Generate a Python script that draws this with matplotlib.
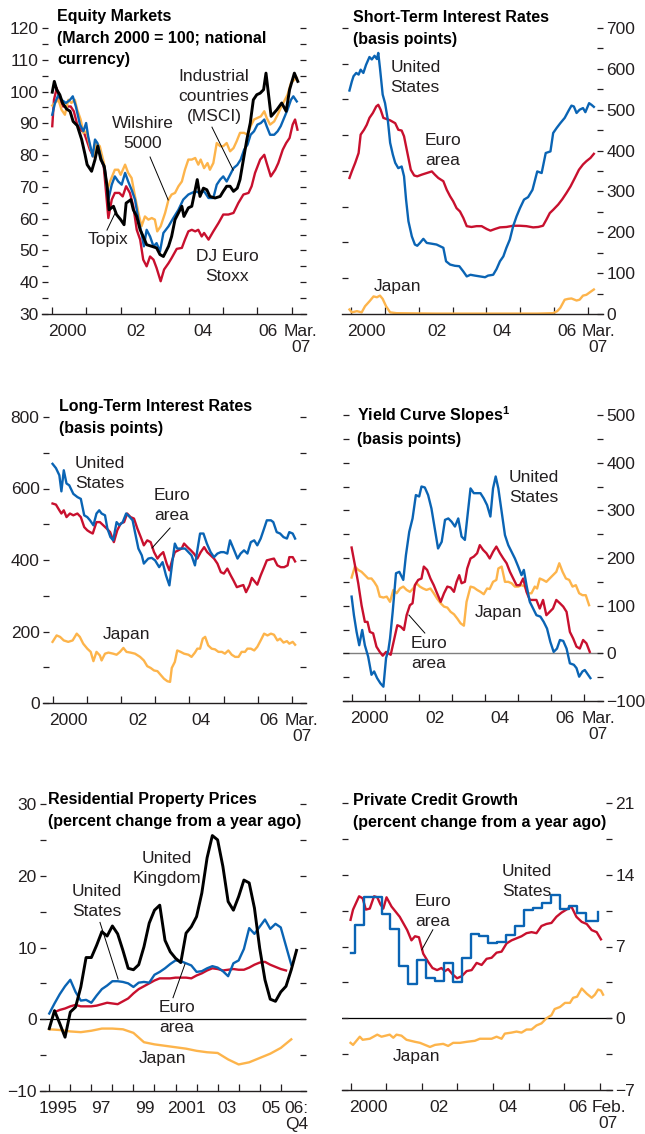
import numpy as np
import matplotlib
matplotlib.use("Agg")
import matplotlib.pyplot as plt
from matplotlib import font_manager

plt.rcParams['font.family'] = ['Liberation Sans', 'DejaVu Sans']
plt.rcParams['mathtext.fontset'] = 'custom'

_names = {f.name for f in font_manager.fontManager.ttflist}
if 'Liberation Sans Narrow' in _names:
    TITLE_FAMILY = ['Liberation Sans Narrow', 'Liberation Sans']
    TITLE_SIZE = 13.6
    plt.rcParams['mathtext.bf'] = 'Liberation Sans Narrow:bold'
else:
    TITLE_FAMILY = ['Liberation Sans', 'DejaVu Sans']
    TITLE_SIZE = 11.5
    plt.rcParams['mathtext.bf'] = 'Liberation Sans:bold'
plt.rcParams['mathtext.rm'] = 'Liberation Sans'

BLUE = '#0a64b4'
RED = '#c8102e'
ORANGE = '#fdb44b'
BLACK = '#000000'
TXT = '#231f20'

# ---------------- DATA ----------------
# Panel 1: Equity markets (March 2000 = 100)  (decimal year, index)
topix = [(2000.0, 99.8), (2000.06, 103.2), (2000.13, 100.6), (2000.22, 99.0), (2000.30, 96.4), (2000.42, 94.5),
         (2000.52, 93.8), (2000.61, 90.6), (2000.73, 89.3), (2000.86, 84.9), (2000.96, 80.1), (2001.02, 77.0),
         (2001.15, 74.9), (2001.25, 78.6), (2001.33, 82.8), (2001.42, 78.6), (2001.52, 76.5), (2001.61, 69.6),
         (2001.66, 62.8), (2001.79, 63.9), (2001.88, 61.3), (2002.00, 59.7), (2002.10, 58.1), (2002.16, 64.9),
         (2002.30, 66.0), (2002.37, 62.8), (2002.47, 60.7), (2002.57, 56.5), (2002.66, 54.4), (2002.76, 51.8),
         (2002.91, 51.3), (2003.05, 50.8), (2003.15, 48.7), (2003.25, 48.1), (2003.40, 51.3), (2003.49, 54.4),
         (2003.59, 59.7), (2003.69, 61.8), (2003.79, 63.9), (2003.85, 60.7), (2003.98, 63.4), (2004.08, 63.9),
         (2004.18, 69.1), (2004.24, 72.3), (2004.32, 67.0), (2004.42, 69.6), (2004.52, 69.1), (2004.61, 67.0),
         (2004.76, 66.5), (2004.91, 67.0), (2005.00, 68.6), (2005.10, 70.2), (2005.20, 70.2), (2005.30, 68.6),
         (2005.41, 69.6), (2005.49, 72.3), (2005.59, 78.6), (2005.69, 84.9), (2005.79, 90.1), (2005.88, 97.4),
         (2005.98, 99.0), (2006.08, 99.5), (2006.18, 100.6), (2006.25, 105.8), (2006.40, 92.2), (2006.57, 94.3),
         (2006.71, 96.4), (2006.84, 93.8), (2006.94, 100.6), (2007.08, 105.8), (2007.18, 103.2)]
msci = [(2000.0, 92.7), (2000.08, 96.4), (2000.18, 99.0), (2000.27, 97.4), (2000.40, 96.4), (2000.52, 97.4),
        (2000.60, 98.5), (2000.69, 95.3), (2000.81, 89.6), (2000.91, 87.5), (2000.99, 90.1), (2001.05, 85.9),
        (2001.18, 79.6), (2001.25, 84.9), (2001.32, 83.8), (2001.44, 78.6), (2001.54, 75.4), (2001.64, 66.0),
        (2001.74, 70.7), (2001.83, 73.3), (2001.93, 71.7), (2002.03, 70.7), (2002.13, 74.4), (2002.22, 71.7),
        (2002.32, 69.1), (2002.42, 66.0), (2002.52, 59.7), (2002.61, 55.5), (2002.68, 51.3), (2002.76, 56.5),
        (2002.86, 54.4), (2002.96, 51.3), (2003.05, 52.3), (2003.15, 49.7), (2003.25, 55.5), (2003.40, 57.6),
        (2003.54, 60.2), (2003.69, 62.8), (2003.83, 66.0), (2003.98, 67.6), (2004.08, 68.1), (2004.18, 68.6),
        (2004.32, 68.1), (2004.44, 68.6), (2004.57, 66.5), (2004.71, 66.5), (2004.81, 70.7), (2004.91, 72.3),
        (2005.00, 73.3), (2005.10, 71.7), (2005.20, 73.8), (2005.30, 75.9), (2005.41, 76.9), (2005.51, 78.6),
        (2005.61, 81.7), (2005.71, 83.3), (2005.80, 86.4), (2005.90, 87.5), (2006.00, 89.6), (2006.10, 90.1),
        (2006.20, 91.2), (2006.27, 89.1), (2006.37, 86.4), (2006.49, 86.4), (2006.59, 87.5), (2006.68, 89.1),
        (2006.78, 91.7), (2006.88, 94.3), (2006.98, 97.4), (2007.05, 98.5), (2007.15, 96.9)]
wilshire = [(2000.0, 95.6), (2000.08, 96.4), (2000.18, 97.4), (2000.27, 94.3), (2000.37, 92.7), (2000.47, 97.4),
            (2000.56, 96.4), (2000.66, 97.4), (2000.73, 94.3), (2000.83, 91.2), (2000.91, 87.0), (2001.00, 87.5),
            (2001.10, 82.8), (2001.20, 79.6), (2001.30, 83.8), (2001.39, 82.8), (2001.51, 77.5), (2001.61, 69.1),
            (2001.69, 71.7), (2001.83, 75.4), (2001.93, 75.4), (2002.00, 73.8), (2002.13, 77.0), (2002.22, 74.4),
            (2002.32, 72.8), (2002.42, 67.0), (2002.52, 61.8), (2002.61, 57.6), (2002.71, 60.7), (2002.81, 59.7),
            (2002.91, 60.2), (2003.00, 59.7), (2003.07, 56.0), (2003.17, 57.6), (2003.30, 61.8), (2003.40, 66.0),
            (2003.49, 67.6), (2003.59, 68.1), (2003.69, 70.2), (2003.79, 71.7), (2003.88, 75.4), (2003.98, 78.6),
            (2004.08, 78.6), (2004.18, 79.1), (2004.27, 77.0), (2004.34, 78.6), (2004.44, 75.9), (2004.54, 77.5),
            (2004.61, 75.4), (2004.71, 77.5), (2004.81, 83.8), (2004.91, 82.8), (2005.00, 82.8), (2005.10, 83.8),
            (2005.20, 81.2), (2005.30, 82.2), (2005.39, 84.3), (2005.49, 87.0), (2005.61, 87.0), (2005.71, 86.4),
            (2005.80, 89.1), (2005.90, 91.2), (2006.00, 91.7), (2006.10, 92.2), (2006.20, 93.8), (2006.27, 91.7),
            (2006.37, 89.6), (2006.49, 90.6), (2006.59, 92.7), (2006.68, 94.8), (2006.78, 96.9), (2006.88, 99.0),
            (2006.98, 102.7), (2007.08, 103.7), (2007.15, 104.3)]
euro_stoxx = [(2000.0, 89.1), (2000.05, 97.4), (2000.13, 101.1), (2000.22, 97.4), (2000.32, 95.3), (2000.42, 95.3),
              (2000.54, 95.3), (2000.63, 93.8), (2000.73, 89.6), (2000.83, 88.0), (2000.93, 87.0), (2001.00, 84.9),
              (2001.10, 81.7), (2001.20, 79.6), (2001.30, 83.8), (2001.40, 80.7), (2001.51, 75.9), (2001.64, 60.2),
              (2001.74, 66.0), (2001.83, 68.1), (2001.96, 68.1), (2002.06, 67.0), (2002.16, 70.2), (2002.27, 68.1),
              (2002.37, 63.9), (2002.47, 56.5), (2002.57, 53.4), (2002.66, 47.1), (2002.76, 45.0), (2002.86, 48.1),
              (2002.96, 47.1), (2003.05, 44.5), (2003.17, 40.3), (2003.27, 44.0), (2003.40, 46.0), (2003.49, 47.6),
              (2003.64, 50.5), (2003.79, 50.8), (2003.88, 53.4), (2003.98, 56.0), (2004.08, 56.5), (2004.18, 56.0),
              (2004.27, 56.5), (2004.37, 54.4), (2004.44, 55.5), (2004.57, 53.4), (2004.71, 56.0), (2004.86, 58.6),
              (2005.00, 61.3), (2005.15, 61.3), (2005.30, 61.8), (2005.44, 64.9), (2005.59, 67.6), (2005.74, 68.1),
              (2005.83, 70.2), (2005.93, 74.4), (2006.08, 78.6), (2006.20, 80.1), (2006.27, 77.5), (2006.39, 73.3),
              (2006.52, 75.4), (2006.61, 77.5), (2006.74, 81.7), (2006.84, 83.8), (2006.94, 85.4), (2007.03, 89.6),
              (2007.10, 91.2), (2007.17, 88.0)]

# Panel 2: Short-term interest rates (basis points)
st_us = [(1999.96, 547), (2000.03, 569), (2000.08, 582), (2000.16, 590), (2000.23, 586), (2000.29, 598),
         (2000.37, 590), (2000.45, 610), (2000.55, 629), (2000.62, 623), (2000.70, 632), (2000.77, 624),
         (2000.81, 639), (2000.86, 602), (2000.94, 537), (2001.01, 516), (2001.09, 476), (2001.16, 419),
         (2001.24, 390), (2001.31, 370), (2001.40, 357), (2001.50, 361), (2001.57, 337), (2001.63, 280),
         (2001.70, 227), (2001.80, 190), (2001.89, 170), (2001.96, 167), (2002.04, 174), (2002.14, 184),
         (2002.24, 174), (2002.39, 172), (2002.53, 170), (2002.63, 166), (2002.73, 162), (2002.81, 129),
         (2002.93, 121), (2003.07, 118), (2003.20, 117), (2003.32, 104), (2003.42, 92), (2003.53, 96),
         (2003.66, 94), (2003.81, 92), (2003.96, 90), (2004.05, 94), (2004.20, 96), (2004.30, 110),
         (2004.40, 129), (2004.50, 141), (2004.59, 162), (2004.69, 182), (2004.79, 215), (2004.89, 239),
         (2004.99, 259), (2005.11, 280), (2005.23, 286), (2005.36, 304), (2005.50, 349), (2005.63, 345),
         (2005.75, 394), (2005.89, 398), (2005.97, 443), (2006.07, 455), (2006.18, 467), (2006.31, 480),
         (2006.44, 500), (2006.51, 510), (2006.58, 508), (2006.66, 492), (2006.75, 500), (2006.85, 504),
         (2006.92, 494), (2007.03, 516), (2007.10, 512), (2007.17, 507)]
st_euro = [(1999.96, 333), (2000.03, 349), (2000.13, 370), (2000.23, 394), (2000.29, 439), (2000.39, 451),
           (2000.47, 463), (2000.55, 480), (2000.65, 492), (2000.75, 508), (2000.81, 512), (2000.88, 500),
           (2000.96, 480), (2001.06, 477), (2001.16, 474), (2001.31, 467), (2001.40, 451), (2001.50, 449),
           (2001.57, 435), (2001.67, 394), (2001.77, 353), (2001.87, 339), (2001.96, 337), (2002.09, 341),
           (2002.24, 345), (2002.39, 349), (2002.48, 341), (2002.58, 333), (2002.73, 325), (2002.83, 304),
           (2002.93, 288), (2003.02, 276), (2003.12, 259), (2003.22, 251), (2003.32, 235), (2003.42, 215),
           (2003.56, 213), (2003.71, 215), (2003.86, 215), (2004.01, 208), (2004.12, 204), (2004.25, 208),
           (2004.40, 212), (2004.59, 213), (2004.79, 216), (2004.99, 216), (2005.18, 215), (2005.38, 212),
           (2005.53, 213), (2005.67, 216), (2005.77, 231), (2005.87, 247), (2005.97, 255), (2006.12, 268),
           (2006.24, 281), (2006.36, 296), (2006.48, 312), (2006.61, 333), (2006.73, 353), (2006.85, 366),
           (2006.95, 374), (2007.07, 382), (2007.17, 392)]
st_japan = [(1999.96, 11), (2000.03, 4), (2000.18, 7), (2000.32, 4), (2000.42, 19), (2000.55, 31),
            (2000.67, 43), (2000.77, 41), (2000.86, 45), (2000.94, 37), (2001.04, 19), (2001.16, 4),
            (2001.35, 2), (2002.50, 1), (2004.00, 1), (2005.50, 1), (2005.97, 2), (2006.09, 7),
            (2006.18, 15), (2006.31, 35), (2006.41, 37), (2006.51, 38), (2006.66, 33), (2006.75, 35),
            (2006.85, 45), (2006.95, 47), (2007.05, 53), (2007.17, 60)]

# Panel 3: Long-term interest rates (basis points)
lt_us = [(1999.98, 669), (2000.08, 657), (2000.18, 637), (2000.24, 592), (2000.31, 651), (2000.39, 614),
         (2000.47, 609), (2000.59, 585), (2000.71, 576), (2000.81, 571), (2000.91, 525), (2001.00, 520),
         (2001.08, 511), (2001.18, 497), (2001.27, 530), (2001.35, 539), (2001.42, 530), (2001.52, 525),
         (2001.59, 488), (2001.68, 464), (2001.76, 455), (2001.86, 506), (2001.94, 497), (2002.04, 506),
         (2002.14, 530), (2002.23, 522), (2002.33, 511), (2002.40, 478), (2002.50, 432), (2002.60, 413),
         (2002.66, 390), (2002.79, 404), (2002.89, 406), (2002.99, 399), (2003.11, 380), (2003.21, 394),
         (2003.31, 357), (2003.41, 329), (2003.51, 404), (2003.57, 446), (2003.64, 432), (2003.77, 432),
         (2003.87, 432), (2003.97, 422), (2004.06, 413), (2004.16, 385), (2004.23, 427), (2004.31, 474),
         (2004.41, 474), (2004.51, 446), (2004.62, 422), (2004.72, 408), (2004.82, 418), (2004.92, 422),
         (2005.01, 422), (2005.11, 418), (2005.19, 455), (2005.29, 432), (2005.41, 404), (2005.50, 418),
         (2005.60, 427), (2005.70, 418), (2005.80, 450), (2005.90, 455), (2005.99, 441), (2006.09, 460),
         (2006.19, 488), (2006.27, 511), (2006.39, 511), (2006.46, 506), (2006.56, 478), (2006.66, 474),
         (2006.76, 464), (2006.86, 460), (2006.93, 478), (2007.03, 474), (2007.10, 460)]
lt_euro = [(1999.98, 558), (2000.08, 555), (2000.18, 539), (2000.24, 530), (2000.31, 539), (2000.39, 520),
           (2000.49, 530), (2000.59, 525), (2000.71, 530), (2000.81, 520), (2000.91, 492), (2001.00, 483),
           (2001.08, 478), (2001.16, 474), (2001.27, 506), (2001.37, 506), (2001.47, 497), (2001.57, 488),
           (2001.67, 478), (2001.78, 450), (2001.88, 483), (2001.98, 502), (2002.08, 506), (2002.17, 530),
           (2002.27, 520), (2002.37, 516), (2002.47, 488), (2002.57, 464), (2002.66, 441), (2002.76, 455),
           (2002.86, 450), (2002.96, 422), (2003.06, 404), (2003.13, 413), (2003.23, 422), (2003.33, 390),
           (2003.41, 371), (2003.49, 399), (2003.57, 422), (2003.67, 427), (2003.77, 432), (2003.84, 446),
           (2003.94, 436), (2004.04, 427), (2004.13, 418), (2004.23, 404), (2004.33, 422), (2004.43, 436),
           (2004.52, 422), (2004.62, 413), (2004.72, 404), (2004.82, 390), (2004.92, 366), (2005.01, 362),
           (2005.11, 376), (2005.21, 357), (2005.29, 343), (2005.39, 324), (2005.48, 327), (2005.58, 330),
           (2005.66, 310), (2005.76, 329), (2005.83, 350), (2005.93, 338), (2005.99, 331), (2006.09, 357),
           (2006.19, 380), (2006.27, 399), (2006.39, 402), (2006.48, 404), (2006.58, 385), (2006.68, 380),
           (2006.78, 380), (2006.88, 385), (2006.93, 408), (2007.03, 408), (2007.10, 396)]
lt_japan = [(1999.98, 171), (2000.10, 189), (2000.20, 185), (2000.31, 175), (2000.44, 171), (2000.57, 175),
            (2000.69, 194), (2000.78, 185), (2000.88, 166), (2001.00, 152), (2001.10, 143), (2001.18, 117),
            (2001.27, 143), (2001.37, 133), (2001.42, 119), (2001.52, 138), (2001.62, 141), (2001.76, 138),
            (2001.86, 135), (2001.96, 143), (2002.06, 154), (2002.15, 143), (2002.27, 141), (2002.40, 138),
            (2002.55, 129), (2002.66, 119), (2002.76, 103), (2002.86, 98), (2002.96, 91), (2003.06, 89),
            (2003.15, 79), (2003.25, 68), (2003.35, 61), (2003.43, 59), (2003.48, 98), (2003.57, 115),
            (2003.64, 147), (2003.74, 143), (2003.84, 138), (2003.97, 135), (2004.06, 129), (2004.16, 141),
            (2004.23, 152), (2004.31, 152), (2004.39, 180), (2004.46, 185), (2004.55, 161), (2004.65, 152),
            (2004.75, 150), (2004.85, 143), (2004.95, 143), (2005.04, 138), (2005.14, 147), (2005.24, 135),
            (2005.34, 129), (2005.44, 129), (2005.53, 143), (2005.63, 143), (2005.70, 152), (2005.80, 152),
            (2005.90, 147), (2005.99, 157), (2006.09, 175), (2006.19, 194), (2006.29, 189), (2006.39, 194),
            (2006.48, 191), (2006.58, 175), (2006.66, 180), (2006.76, 169), (2006.86, 173), (2006.93, 166),
            (2007.03, 171), (2007.10, 163)]

# Panel 4: Yield curve slopes (basis points)
yc_us = [(1999.98, 119), (2000.05, 80), (2000.13, 45), (2000.21, 17), (2000.30, 49), (2000.38, 17),
         (2000.48, -7), (2000.58, -45), (2000.66, -38), (2000.75, -52), (2000.85, -63), (2000.94, -70),
         (2001.02, -10), (2001.09, 7), (2001.14, 31), (2001.22, 87), (2001.32, 168), (2001.42, 171),
         (2001.54, 154), (2001.62, 206), (2001.72, 255), (2001.82, 283), (2001.92, 332), (2002.02, 329),
         (2002.09, 350), (2002.19, 348), (2002.29, 332), (2002.39, 304), (2002.49, 262), (2002.59, 220),
         (2002.70, 234), (2002.80, 280), (2002.90, 283), (2003.00, 276), (2003.10, 266), (2003.20, 283),
         (2003.30, 245), (2003.40, 238), (2003.47, 283), (2003.57, 346), (2003.67, 336), (2003.77, 336),
         (2003.87, 336), (2003.97, 325), (2004.07, 311), (2004.17, 287), (2004.25, 346), (2004.33, 371),
         (2004.41, 346), (2004.51, 297), (2004.61, 248), (2004.71, 227), (2004.81, 213), (2004.91, 199),
         (2005.01, 182), (2005.11, 164), (2005.18, 175), (2005.26, 143), (2005.36, 108), (2005.46, 94),
         (2005.56, 80), (2005.68, 77), (2005.78, 66), (2005.88, 52), (2005.98, 24), (2006.08, 3),
         (2006.18, 10), (2006.27, 28), (2006.37, 26), (2006.47, 10), (2006.57, -21), (2006.69, -24),
         (2006.77, -31), (2006.85, -49), (2006.95, -38), (2007.02, -35), (2007.12, -45), (2007.19, -52)]
yc_euro = [(1999.98, 222), (2000.08, 185), (2000.18, 147), (2000.28, 101), (2000.38, 66), (2000.46, 66),
           (2000.53, 45), (2000.63, 42), (2000.73, 14), (2000.83, 3), (2000.92, -5), (2001.02, 3),
           (2001.09, 0), (2001.16, -3), (2001.26, 28), (2001.36, 59), (2001.46, 56), (2001.56, 49),
           (2001.64, 80), (2001.74, 101), (2001.82, 105), (2001.89, 143), (2001.99, 154), (2002.09, 157),
           (2002.16, 182), (2002.26, 175), (2002.36, 157), (2002.46, 143), (2002.56, 126), (2002.67, 108),
           (2002.77, 126), (2002.87, 140), (2002.97, 138), (2003.07, 129), (2003.15, 150), (2003.23, 164),
           (2003.30, 147), (2003.40, 150), (2003.47, 178), (2003.57, 199), (2003.67, 203), (2003.77, 210),
           (2003.85, 227), (2003.95, 217), (2004.05, 210), (2004.15, 199), (2004.25, 213), (2004.35, 224),
           (2004.46, 210), (2004.56, 199), (2004.66, 189), (2004.76, 171), (2004.86, 157), (2004.96, 143),
           (2005.06, 143), (2005.16, 157), (2005.26, 129), (2005.36, 112), (2005.46, 112), (2005.56, 112),
           (2005.66, 94), (2005.76, 112), (2005.86, 80), (2005.96, 87), (2006.06, 94), (2006.16, 112),
           (2006.27, 105), (2006.37, 98), (2006.47, 87), (2006.57, 45), (2006.67, 31), (2006.77, 14),
           (2006.87, 10), (2006.97, 28), (2007.07, 21), (2007.17, 3)]
yc_japan = [(1999.98, 159), (2000.08, 182), (2000.18, 175), (2000.28, 171), (2000.38, 164), (2000.48, 157),
            (2000.58, 157), (2000.66, 150), (2000.75, 140), (2000.83, 119), (2000.94, 117), (2001.04, 119),
            (2001.14, 108), (2001.24, 133), (2001.34, 126), (2001.44, 136), (2001.54, 140), (2001.64, 133),
            (2001.74, 129), (2001.84, 136), (2001.94, 147), (2002.04, 140), (2002.14, 136), (2002.24, 133),
            (2002.36, 136), (2002.46, 126), (2002.56, 115), (2002.67, 105), (2002.77, 98), (2002.87, 96),
            (2002.97, 87), (2003.07, 82), (2003.17, 73), (2003.27, 63), (2003.37, 58), (2003.45, 108),
            (2003.57, 140), (2003.67, 138), (2003.77, 133), (2003.87, 129), (2003.97, 124), (2004.07, 136),
            (2004.15, 135), (2004.25, 150), (2004.35, 154), (2004.41, 178), (2004.51, 182), (2004.61, 150),
            (2004.71, 150), (2004.81, 147), (2004.91, 140), (2005.01, 140), (2005.11, 143), (2005.21, 140),
            (2005.31, 126), (2005.41, 126), (2005.51, 140), (2005.58, 136), (2005.66, 157), (2005.76, 154),
            (2005.86, 150), (2005.96, 157), (2006.06, 164), (2006.16, 171), (2006.25, 189), (2006.35, 171),
            (2006.45, 157), (2006.55, 154), (2006.65, 140), (2006.75, 143), (2006.85, 126), (2006.95, 122),
            (2007.05, 122), (2007.15, 101)]

# Panel 5: Residential property prices (percent change from a year ago), quarterly from 1995:Q1
hp_uk = [-1.3, 1.2, -0.6, -2.5, 1.0, 1.7, 4.5, 8.6, 8.6, 10.3, 12.2, 11.6, 13.0, 11.9, 9.6, 7.1,
         6.9, 7.6, 10.1, 13.4, 15.2, 15.9, 11.0, 9.4, 8.5, 7.9, 12.0, 12.9, 14.3, 17.6, 22.5, 25.6,
         25.0, 21.3, 16.4, 15.2, 17.1, 19.4, 19.0, 15.5, 9.9, 5.5, 2.8, 2.5, 3.8, 4.6, 6.9, 9.6]
hp_us = [0.8, 2.2, 3.5, 4.6, 5.5, 3.8, 2.6, 2.7, 2.3, 3.3, 4.2, 4.7, 5.3, 5.3, 5.2, 5.0,
         4.5, 5.1, 5.2, 5.1, 6.2, 6.6, 7.1, 7.7, 8.2, 8.1, 7.8, 7.5, 6.6, 6.7, 7.1, 7.4,
         7.2, 6.7, 6.0, 7.8, 8.2, 9.8, 12.7, 11.9, 12.9, 13.9, 12.6, 13.3, 12.8, 10.2, 7.6]
# euro area series starts 1995:Q2
hp_euro = [1.0, 1.3, 1.5, 1.8, 2.0, 1.8, 1.8, 1.8, 1.9, 2.1, 2.3, 2.2, 2.1, 2.5, 2.9,
           3.6, 4.2, 4.6, 5.0, 5.4, 5.7, 5.7, 5.7, 5.8, 5.8, 5.8, 5.7, 6.1, 6.4, 6.8,
           7.1, 7.0, 6.8, 6.9, 7.0, 6.9, 6.9, 7.2, 7.6, 7.9, 8.0, 7.6, 7.3, 7.0, 6.8]
# Japan: semiannual from 1995:H1
hp_japan = [-1.4, -1.5, -1.7, -1.8, -1.6, -1.3, -1.3, -1.4, -1.9, -3.2, -3.5, -3.7,
            -3.9, -4.1, -4.4, -4.6, -4.7, -5.6, -6.3, -6.0, -5.4, -4.8, -4.0, -2.8]

# Panel 6: Private credit growth (percent change from a year ago)
cr_us_steps = [(2000.00, 6.4), (2000.12, 9.1), (2000.37, 11.8), (2000.87, 10.2), (2001.12, 8.7), (2001.37, 5.1),
               (2001.62, 3.3), (2001.87, 5.7), (2002.12, 3.9), (2002.37, 3.6), (2002.62, 5.4), (2002.87, 3.5),
               (2003.12, 5.9), (2003.37, 8.2), (2003.62, 8.0), (2003.87, 7.3), (2004.12, 7.4), (2004.37, 8.1),
               (2004.62, 9.0), (2004.87, 10.6), (2005.12, 10.8), (2005.37, 11.2), (2005.62, 12.0), (2005.87, 10.7),
               (2006.12, 11.0), (2006.37, 10.3), (2006.62, 9.5), (2006.95, 10.4)]
cr_euro = [(2000.00, 9.6), (2000.07, 10.6), (2000.24, 11.9), (2000.34, 11.7), (2000.43, 10.6), (2000.54, 10.7),
           (2000.66, 11.9), (2000.75, 11.8), (2000.84, 11.1), (2000.92, 10.7), (2001.01, 11.8), (2001.15, 10.9),
           (2001.38, 9.9), (2001.59, 8.6), (2001.71, 7.6), (2001.81, 8.0), (2001.92, 7.9), (2002.04, 6.3),
           (2002.18, 5.5), (2002.30, 4.9), (2002.43, 4.7), (2002.55, 4.9), (2002.65, 4.6), (2002.74, 4.8),
           (2002.86, 4.3), (2002.99, 3.9), (2003.12, 4.1), (2003.26, 4.6), (2003.40, 4.7), (2003.54, 5.4),
           (2003.68, 5.2), (2003.82, 5.8), (2003.96, 5.9), (2004.10, 6.4), (2004.24, 6.5), (2004.38, 7.3),
           (2004.52, 7.6), (2004.66, 7.8), (2004.80, 8.0), (2004.94, 8.3), (2005.08, 8.4), (2005.22, 8.3),
           (2005.36, 9.0), (2005.50, 9.2), (2005.64, 9.3), (2005.78, 9.9), (2005.92, 10.3), (2006.06, 10.6),
           (2006.20, 10.9), (2006.34, 9.9), (2006.49, 9.4), (2006.63, 9.2), (2006.77, 8.6), (2006.91, 8.4),
           (2007.03, 7.7)]
cr_japan = [(2000.00, -2.4), (2000.07, -2.6), (2000.26, -1.8), (2000.34, -2.1), (2000.54, -2.0), (2000.75, -1.6),
            (2000.87, -1.8), (2001.10, -1.6), (2001.20, -1.9), (2001.29, -1.6), (2001.43, -1.7), (2001.57, -2.1),
            (2001.81, -2.3), (2001.95, -2.4), (2002.09, -2.6), (2002.23, -2.8), (2002.37, -2.6), (2002.60, -2.5),
            (2002.74, -2.7), (2002.88, -2.4), (2003.07, -2.4), (2003.26, -2.3), (2003.49, -2.2), (2003.63, -2.0),
            (2003.82, -2.0), (2003.96, -2.0), (2004.10, -1.8), (2004.24, -2.0), (2004.33, -1.5), (2004.52, -1.4),
            (2004.66, -1.3), (2004.80, -1.4), (2004.94, -1.1), (2005.08, -1.1), (2005.22, -0.7), (2005.36, -0.5),
            (2005.50, 0.0), (2005.64, 0.3), (2005.73, 0.9), (2005.88, 1.1), (2006.02, 1.5), (2006.16, 1.5),
            (2006.25, 2.0), (2006.36, 2.1), (2006.49, 2.9), (2006.63, 2.4), (2006.77, 2.0), (2006.86, 2.3),
            (2006.95, 2.8), (2007.03, 2.7), (2007.09, 2.3)]

# Tick labels
lbl_2000s_mar = ['2000', '02', '04', '06', 'Mar.\n07']
lbl_2000s_feb = ['2000', '02', '04', '06', 'Feb.\n07']
lbl_1995 = ['1995', '97', '99', '2001', '03', '05', '06:\nQ4']

# ---------------- FIGURE ----------------
W, H = 645, 1134
fig = plt.figure(figsize=(W / 100, H / 100), dpi=100)


def make_ax(l, r, t, b):
    return fig.add_axes([l / W, 1 - b / H, (r - l) / W, (b - t) / H])


def style(ax, xlim, ylim, ymaj, ymin, side, xmaj, xlab_pos, xlabels):
    ax.set_xlim(xlim)
    ax.set_ylim(ylim)
    for s in ['left', 'right', 'top']:
        ax.spines[s].set_visible(False)
    ax.spines['bottom'].set_linewidth(1.0)
    ax.spines['bottom'].set_color(TXT)
    ax.spines['bottom'].set_zorder(5)
    ax.set_yticks(ymaj)
    ax.set_yticks(ymin, minor=True)
    ax.tick_params(axis='y', which='both', direction='in', length=4, width=0.9, color=TXT,
                   left=True, right=True, labelleft=(side == 'left'), labelright=(side == 'right'),
                   labelsize=12.5, labelcolor=TXT, pad=2.5)
    ax.set_xticks(xmaj, [''] * len(xmaj))
    ax.set_xticks(xlab_pos, xlabels, minor=True)
    ax.tick_params(axis='x', which='major', direction='in', length=5, width=0.9, color=TXT)
    ax.tick_params(axis='x', which='minor', length=0, labelsize=12.5, labelcolor=TXT, pad=7)
    for lab in ax.get_xticklabels(minor=True):
        lab.set_linespacing(1.1)
    ax.patch.set_alpha(0)


def line(ax, pairs, color, lw=1.7, **kw):
    t = [p[0] for p in pairs]
    v = [p[1] for p in pairs]
    ax.plot(t, v, color=color, lw=lw, solid_joinstyle='round', **kw)


def title(x, y, s):
    fig.text(x / W, 1 - y / H, s, ha='left', va='top', fontsize=TITLE_SIZE, fontweight='bold',
             family=TITLE_FAMILY, color=BLACK, linespacing=1.55)


def note(ax, x, y, s, ha='center'):
    ax.text(x, y, s, ha=ha, va='center', fontsize=12.5, color=TXT, linespacing=1.42)


def leader(ax, p0, p1):
    ax.plot([p0[0], p1[0]], [p0[1], p1[1]], color=BLACK, lw=0.7)


years = list(range(2000, 2008))

# Panel 1
ax1 = make_ax(42, 306, 28, 314)
style(ax1, (1999.70, 2007.42), (30, 120), list(range(30, 121, 10)), list(range(35, 120, 10)), 'left',
      years, [2000.45, 2002.44, 2004.42, 2006.32, 2007.27], lbl_2000s_mar)
line(ax1, euro_stoxx, RED)
line(ax1, wilshire, ORANGE)
line(ax1, msci, BLUE)
line(ax1, topix, BLACK, lw=2.1)
note(ax1, 2004.73, 98.3, 'Industrial\ncountries\n(MSCI)')
leader(ax1, (2004.67, 88.8), (2005.29, 75.3))
note(ax1, 2002.65, 86.8, 'Wilshire\n5000')
leader(ax1, (2002.86, 79.4), (2003.39, 65.9))
note(ax1, 2001.63, 53.3, 'Topix')
leader(ax1, (2001.60, 56.4), (2001.84, 61.8))
note(ax1, 2005.11, 44.8, 'DJ Euro\nStoxx')
title(57, 9, 'Equity Markets\n(March 2000 = 100; national\ncurrency)')

# Panel 2
ax2 = make_ax(342, 603, 28, 314)
style(ax2, (1999.74, 2007.44), (0, 700), list(range(0, 701, 100)), list(range(50, 700, 100)), 'right',
      years, [2000.47, 2002.54, 2004.45, 2006.37, 2007.3], lbl_2000s_mar)
ax2.tick_params(axis='y', which='both', left=False)
sec = ax2.secondary_yaxis('left', functions=(lambda v: v / 87.5, lambda v: v * 87.5))
sec.set_yticks(list(range(1, 9)))
sec.tick_params(direction='in', length=4, width=0.9, color=TXT, labelleft=False)
sec.spines['left'].set_visible(False)
line(ax2, st_japan, ORANGE)
line(ax2, st_euro, RED)
line(ax2, st_us, BLUE)
note(ax2, 2001.16, 578.8, 'United\nStates', ha='left')
note(ax2, 2002.72, 401, 'Euro\narea')
note(ax2, 2001.37, 68.5, 'Japan')
title(353, 10, 'Short-Term Interest Rates\n(basis points)')

# Panel 3
ax3 = make_ax(43, 306, 417, 703)
style(ax3, (1999.70, 2007.42), (0, 800), list(range(0, 801, 200)), list(range(100, 800, 200)), 'left',
      years, [2000.44, 2002.5, 2004.35, 2006.34, 2007.3], lbl_2000s_mar)
line(ax3, lt_japan, ORANGE)
line(ax3, lt_euro, RED)
line(ax3, lt_us, BLUE)
note(ax3, 2000.64, 643, 'United\nStates', ha='left')
note(ax3, 2002.96, 552, 'Euro\narea', ha='left')
leader(ax3, (2003.43, 489.5), (2002.90, 433.6))
note(ax3, 2002.14, 193, 'Japan')
title(59, 399, 'Long-Term Interest Rates\n(basis points)')

# Panel 4
ax4 = make_ax(343, 603, 415, 701)
style(ax4, (1999.72, 2007.57), (-100, 500), list(range(-100, 501, 100)), list(range(-50, 500, 100)), 'right',
      years, [2000.51, 2002.5, 2004.46, 2006.42, 2007.42], lbl_2000s_mar)
ax4.axhline(0, color='#7f7f7f', lw=1.0, zorder=1)
line(ax4, yc_japan, ORANGE)
line(ax4, yc_euro, RED)
line(ax4, yc_us, BLUE)
note(ax4, 2004.73, 347.6, 'United\nStates', ha='left')
note(ax4, 2003.70, 86.6, 'Japan', ha='left')
note(ax4, 2001.77, 0, 'Euro\narea', ha='left')
leader(ax4, (2001.71, 80.3), (2002.19, 42.6))
title(357, 404, r'Yield Curve Slopes$^{\mathbf{1}}$' + '\n(basis points)')

# Panel 5
ax5 = make_ax(40, 306, 804, 1091)
style(ax5, (1994.56, 2007.20), (-10, 30), list(range(-10, 31, 10)), list(range(-5, 30, 10)), 'left',
      list(range(1995, 2007)), [1995.43, 1997.44, 1999.55, 2001.53, 2003.43, 2005.52, 2006.76], lbl_1995)
ax5.axhline(0, color=BLACK, lw=0.9, zorder=1)
q_uk = 1995 + np.arange(len(hp_uk)) / 4
q_us = 1995 + np.arange(len(hp_us)) / 4
q_eu = 1995.25 + np.arange(len(hp_euro)) / 4
h_jp = 1995 + np.arange(len(hp_japan)) / 2
ax5.plot(h_jp, hp_japan, color=ORANGE, lw=1.7)
ax5.plot(q_eu, hp_euro, color=RED, lw=1.7)
ax5.plot(q_us, hp_us, color=BLUE, lw=1.7)
ax5.plot(q_uk, hp_uk, color=BLACK, lw=2.1)
note(ax5, 2000.59, 21.0, 'United\nKingdom')
note(ax5, 1997.27, 16.45, 'United\nStates')
leader(ax5, (1997.41, 13.5), (1998.27, 5.6))
note(ax5, 2001.07, 0.25, 'Euro\narea')
leader(ax5, (2000.88, 3.0), (2001.45, 7.7))
note(ax5, 2000.40, -5.5, 'Japan')
title(48, 792, 'Residential Property Prices\n(percent change from a year ago)')

# Panel 6
ax6 = make_ax(342, 612, 803, 1090)
style(ax6, (1999.76, 2007.34), (-7, 21), [-7, 0, 7, 14, 21], [-3.5, 3.5, 10.5, 17.5], 'right',
      years, [2000.5, 2002.48, 2004.43, 2006.39, 2007.24], lbl_2000s_feb)
ax6.axhline(0, color=BLACK, lw=0.9, zorder=1)
line(ax6, cr_japan, ORANGE)
line(ax6, cr_euro, RED)
ax6.plot([p[0] for p in cr_us_steps], [p[1] for p in cr_us_steps], color=BLUE, lw=1.7,
         drawstyle='steps-post')
note(ax6, 2004.25, 13.3, 'United\nStates', ha='left')
note(ax6, 2002.31, 10.4, 'Euro\narea')
leader(ax6, (2002.31, 8.63), (2002.0, 6.68))
note(ax6, 2001.86, -3.78, 'Japan')
title(353, 793, 'Private Credit Growth\n(percent change from a year ago)')

fig.savefig('out.png', dpi=100)
